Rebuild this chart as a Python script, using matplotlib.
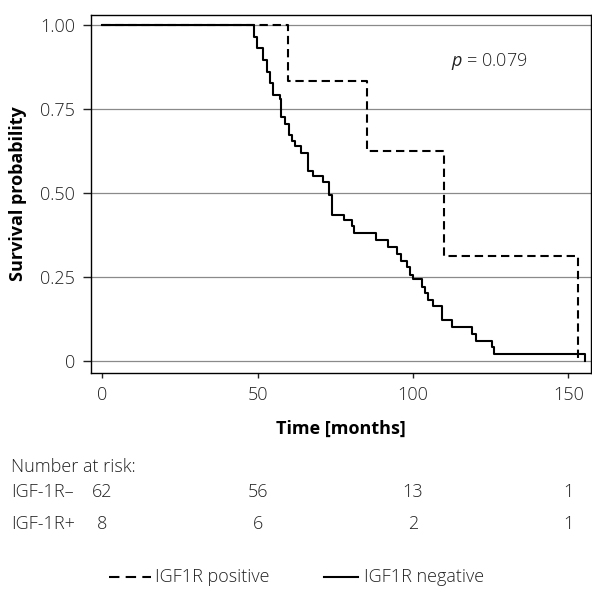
import matplotlib
matplotlib.use('Agg')
import matplotlib.pyplot as plt
from matplotlib.lines import Line2D
import matplotlib.transforms as mtransforms

plt.rcParams['font.family'] = ['Open Sans', 'DejaVu Sans']
plt.rcParams['mathtext.fontset'] = 'custom'
plt.rcParams['mathtext.it'] = 'Open Sans:italic'
plt.rcParams['mathtext.rm'] = 'Open Sans'

# ---- data ----
neg_time = [0, 48.7, 49.9, 51.9, 53.0, 54.1, 55.0, 57.1, 57.7, 58.8, 60.0, 61.0,
            62.0, 64.0, 66.2, 68.0, 70.9, 73.0, 74.1, 77.9, 80.3, 81.0, 88.0,
            92.1, 94.8, 96.0, 98.0, 99.0, 100.1, 102.8, 103.9, 104.9, 106.3,
            109.2, 112.5, 119.1, 120.2, 125.3, 126.2, 155.4]
neg_surv = [1.0, 0.965, 0.932, 0.897, 0.862, 0.827, 0.793, 0.780, 0.727, 0.707,
            0.672, 0.654, 0.639, 0.621, 0.567, 0.550, 0.532, 0.494, 0.435, 0.420,
            0.401, 0.381, 0.361, 0.339, 0.319, 0.299, 0.280, 0.257, 0.244, 0.222,
            0.202, 0.182, 0.163, 0.123, 0.101, 0.081, 0.061, 0.042, 0.022, 0.0]
pos_time = [0, 59.9, 85.1, 110.1, 153.2]
pos_surv = [1.0, 0.833, 0.625, 0.3125, 0.0]

x_ticks = [0, 50, 100, 150]
y_ticks = [0, 0.25, 0.50, 0.75, 1.00]
y_ticklabels = ['0', '0.25', '0.50', '0.75', '1.00']

risk_times = [0, 50, 100, 150]
risk_neg = [62, 56, 13, 1]
risk_pos = [8, 6, 2, 1]
row_labels = ['IGF-1R\u2013', 'IGF-1R+']
legend_labels = ['IGF1R positive', 'IGF1R negative']
p_text = r'$p$ = 0.079'

# ---- figure ----
W, H = 592, 590
fig = plt.figure(figsize=(W / 100, H / 100), dpi=100)
ax = fig.add_axes([91 / W, 1 - 372.7 / H, 500 / W, (372.7 - 14.7) / H])

ax.step(neg_time, neg_surv, where='post', color='black', lw=1.5, zorder=3)
ax.step(pos_time, pos_surv, where='post', color='black', lw=1.5,
        linestyle=(0, (4, 2.3)), zorder=4)

ax.set_xlim(-3.6, 157.3)
ax.set_ylim(-0.034, 1.031)
ax.set_xticks(x_ticks)
ax.set_yticks(y_ticks)
ax.set_yticklabels(y_ticklabels)
ax.yaxis.grid(True, color='#8a8a8a', lw=0.9)
ax.set_axisbelow(True)
for s in ax.spines.values():
    s.set_linewidth(1.0)
    s.set_color('black')

ax.tick_params(axis='x', length=3.8, width=1.0, pad=6, labelsize=13, colors='#222222')
ax.tick_params(axis='y', length=5.8, width=1.0, pad=5.5, labelsize=13, colors='#222222')
for t in ax.get_xticklabels() + ax.get_yticklabels():
    t.set_fontweight('light')
    t.set_color('#222222')

ax.set_xlabel('Time [months]', fontsize=13, fontweight='bold')
ax.xaxis.set_label_coords(0.5, -0.133)
ax.set_ylabel('Survival probability', fontsize=13, fontweight='bold')
ax.yaxis.set_label_coords(-0.128, 0.5)

ax.text(112.1, 0.892, p_text, fontsize=13, ha='left', va='center',
        color='#222222', fontweight='light')

# ---- number at risk table ----
tr = mtransforms.blended_transform_factory(ax.transData, fig.transFigure)
fs = 13
fig.text(11 / W, 1 - 467 / H, 'Number at risk:', fontsize=fs, ha='left', va='center',
         fontweight='light', color='#222222')
row_y = [492, 524]
for lab, vals, yy in zip(row_labels, [risk_neg, risk_pos], row_y):
    fig.text(11 / W, 1 - yy / H, lab, fontsize=fs, ha='left', va='center',
             fontweight='light', color='#222222')
    for t, v in zip(risk_times, vals):
        ax.text(t, 1 - yy / H, str(v), transform=tr, fontsize=fs, ha='center',
                va='center', fontweight='light', color='#222222', clip_on=False)

# ---- legend (manual) ----
ly = 1 - 577 / H
fig.add_artist(Line2D([109 / W, 151 / W], [ly, ly], color='black', lw=1.5,
                      linestyle=(0, (5, 3)), transform=fig.transFigure))
fig.text(155 / W, ly, legend_labels[0], fontsize=fs, ha='left', va='center',
         fontweight='light', color='#222222')
fig.add_artist(Line2D([324 / W, 358 / W], [ly, ly], color='black', lw=1.5,
                      transform=fig.transFigure))
fig.text(364 / W, ly, legend_labels[1], fontsize=fs, ha='left', va='center',
         fontweight='light', color='#222222')

fig.savefig('out.png', dpi=100)
